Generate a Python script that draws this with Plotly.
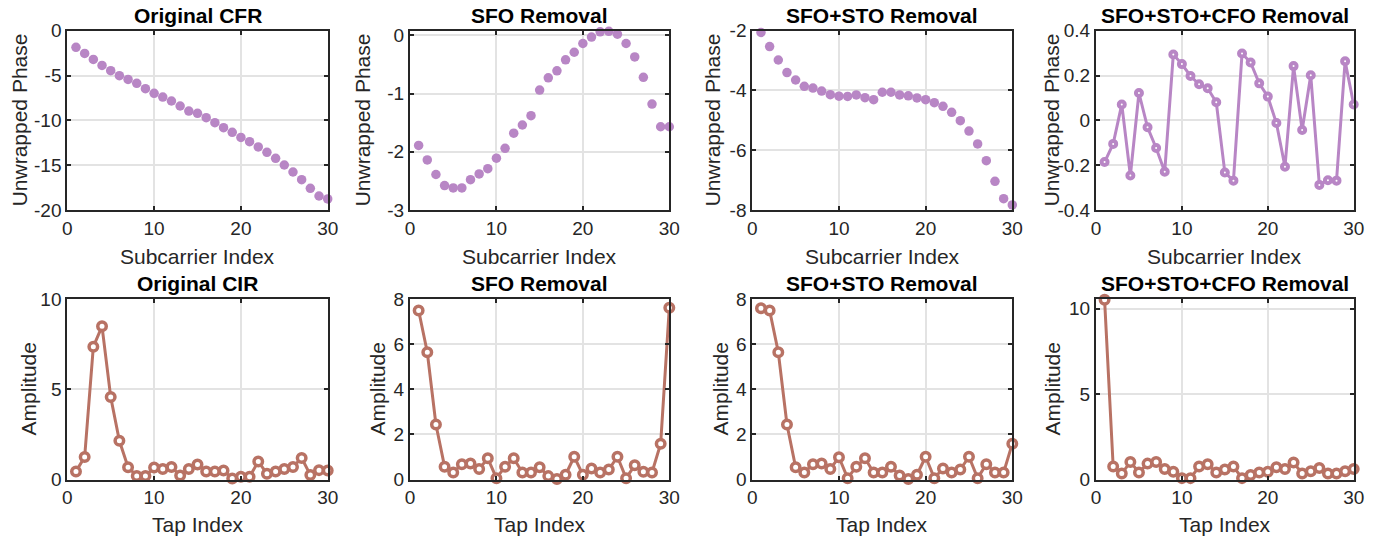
import plotly.graph_objects as go

# ---------------- data ----------------
idx = list(range(1, 31))

cfr_original = [-1.86, -2.53, -3.20, -3.87, -4.46, -5.02, -5.43, -5.87, -6.47, -6.99,
                -7.40, -7.84, -8.40, -8.96, -9.22, -9.70, -10.26, -10.82, -11.34, -11.90,
                -12.38, -12.97, -13.57, -14.24, -14.98, -15.76, -16.62, -17.58, -18.44, -18.77]
cfr_sfo = [-1.89, -2.14, -2.39, -2.58, -2.62, -2.62, -2.48, -2.38, -2.29, -2.11,
           -1.94, -1.68, -1.54, -1.38, -0.94, -0.73, -0.61, -0.42, -0.29, -0.14,
           -0.03, 0.06, 0.07, 0.02, -0.14, -0.37, -0.72, -1.18, -1.57, -1.57]
cfr_sfo_sto = [-2.06, -2.53, -2.98, -3.40, -3.65, -3.86, -3.92, -4.02, -4.14, -4.19,
               -4.20, -4.15, -4.24, -4.31, -4.06, -4.06, -4.15, -4.18, -4.25, -4.31,
               -4.41, -4.53, -4.73, -5.01, -5.36, -5.79, -6.35, -7.04, -7.62, -7.83]
cfr_sfo_sto_cfo = [-0.186, -0.105, 0.071, -0.246, 0.122, -0.031, -0.123, -0.229, 0.294, 0.251,
                   0.198, 0.161, 0.143, 0.081, -0.233, -0.269, 0.298, 0.258, 0.165, 0.106,
                   -0.012, -0.207, 0.242, -0.043, 0.201, -0.288, -0.267, -0.269, 0.264, 0.071]

cir_original = [0.45, 1.25, 7.37, 8.50, 4.58, 2.15, 0.68, 0.20, 0.20, 0.66,
                0.58, 0.70, 0.22, 0.58, 0.83, 0.45, 0.45, 0.50, 0.05, 0.15,
                0.15, 1.00, 0.32, 0.45, 0.58, 0.70, 1.19, 0.25, 0.52, 0.50]
cir_sfo = [7.50, 5.65, 2.44, 0.57, 0.31, 0.68, 0.71, 0.47, 0.94, 0.06,
           0.57, 0.94, 0.31, 0.31, 0.54, 0.15, 0.02, 0.21, 1.01, 0.21,
           0.49, 0.31, 0.44, 1.01, 0.06, 0.63, 0.34, 0.31, 1.59, 7.62]
cir_sfo_sto = [7.60, 7.50, 5.65, 2.44, 0.54, 0.31, 0.68, 0.71, 0.47, 0.99,
               0.06, 0.57, 0.94, 0.31, 0.31, 0.57, 0.18, 0.02, 0.21, 1.01,
               0.06, 0.49, 0.31, 0.44, 1.01, 0.06, 0.68, 0.31, 0.31, 1.59]
cir_sfo_sto_cfo = [10.52, 0.76, 0.35, 1.03, 0.41, 0.93, 1.03, 0.62, 0.45, 0.08,
                   0.08, 0.76, 0.89, 0.41, 0.58, 0.76, 0.08, 0.27, 0.41, 0.45,
                   0.72, 0.62, 0.99, 0.35, 0.48, 0.68, 0.35, 0.35, 0.48, 0.62]

titles_top = ["Original CFR", "SFO Removal", "SFO+STO Removal", "SFO+STO+CFO Removal"]
titles_bot = ["Original CIR", "SFO Removal", "SFO+STO Removal", "SFO+STO+CFO Removal"]

x_ticks = [0, 10, 20, 30]
y_ticks_top = [[0, -5, -10, -15, -20], [0, -1, -2, -3], [-2, -4, -6, -8], [0.4, 0.2, 0, -0.2, -0.4]]
y_ticktext_top = [["0", "-5", "-10", "-15", "-20"], ["0", "-1", "-2", "-3"],
                  ["-2", "-4", "-6", "-8"], ["0.4", "0.2", "0", "-0.2", "-0.4"]]
y_ranges_top = [[-20, 0], [-3, 0.08], [-8, -2], [-0.4, 0.4]]
y_ticks_bot = [[0, 5, 10], [0, 2, 4, 6, 8], [0, 2, 4, 6, 8], [0, 5, 10]]
y_ranges_bot = [[0, 10], [0, 8], [0, 8], [0, 10.55]]

# ---------------- layout geometry (page pixels) ----------------
PAGE_W, PAGE_H = 1387, 537
OFF = 8  # default body margin of the html page
W, H = PAGE_W - OFF, PAGE_H - OFF
cols = [(67.3, 327.7), (410, 669.3), (752.3, 1012.3), (1096, 1353.7)]
rows = [(30.7, 210), (299.3, 479.5)]
ylabel_x_top = [19, 362, 712, 1051]
ylabel_x_bot = [28, 377, 720, 1052]

purple = "#B886C5"
brown = "#B87264"
dark = "#262626"
grid = "#E3E3E3"
FONT = "Liberation Sans, Arial, Helvetica, sans-serif"

fig = go.Figure()

top_series = [cfr_original, cfr_sfo, cfr_sfo_sto, cfr_sfo_sto_cfo]
bot_series = [cir_original, cir_sfo, cir_sfo_sto, cir_sfo_sto_cfo]

annotations = []
layout_axes = {}

def px_x(p):
    return (p - OFF) / W

def px_y(p):
    return 1 - (p - OFF) / H

n = 0
for r in range(2):
    for c in range(4):
        n += 1
        xa = "x" if n == 1 else f"x{n}"
        ya = "y" if n == 1 else f"y{n}"
        xkey = "xaxis" if n == 1 else f"xaxis{n}"
        ykey = "yaxis" if n == 1 else f"yaxis{n}"
        x0, x1 = cols[c]
        ytop, ybot = rows[r]
        axis_common = dict(showline=True, linecolor=dark, linewidth=2, mirror="ticks",
                           ticks="inside", ticklen=4, tickwidth=1.5, tickcolor=dark,
                           showgrid=True, gridcolor=grid, gridwidth=1.6, zeroline=False,
                           automargin=False,
                           tickfont=dict(family=FONT, size=19, color=dark))
        layout_axes[xkey] = dict(domain=[px_x(x0), px_x(x1)], anchor=ya, range=[0, 30],
                                 tickvals=x_ticks, ticktext=[str(v) for v in x_ticks],
                                 **axis_common)
        if r == 0:
            layout_axes[ykey] = dict(domain=[px_y(ybot), px_y(ytop)], anchor=xa,
                                     range=y_ranges_top[c], tickvals=y_ticks_top[c],
                                     ticktext=y_ticktext_top[c], **axis_common)
            ys = top_series[c]
            if c < 3:
                fig.add_trace(go.Scatter(x=idx, y=ys, xaxis=xa, yaxis=ya, mode="markers",
                                         marker=dict(color=purple, size=9.5),
                                         cliponaxis=False, showlegend=False))
            else:
                fig.add_trace(go.Scatter(x=idx, y=ys, xaxis=xa, yaxis=ya, mode="lines+markers",
                                         line=dict(color=purple, width=3),
                                         marker=dict(color="white", size=6, symbol="circle",
                                                     line=dict(color=purple, width=4)),
                                         cliponaxis=False, showlegend=False))
            title = titles_top[c]
            xlabel = "Subcarrier Index"
            ylabel = "Unwrapped Phase"
            title_y = 15
            xlabel_y = 256
            ylx = ylabel_x_top[c]
        else:
            layout_axes[ykey] = dict(domain=[px_y(ybot), px_y(ytop)], anchor=xa,
                                     range=y_ranges_bot[c], tickvals=y_ticks_bot[c],
                                     ticktext=[str(v) for v in y_ticks_bot[c]], **axis_common)
            ys = bot_series[c]
            fig.add_trace(go.Scatter(x=idx, y=ys, xaxis=xa, yaxis=ya, mode="lines+markers",
                                     line=dict(color=brown, width=3),
                                     marker=dict(color="white", size=8.5, symbol="circle",
                                                 line=dict(color=brown, width=3.5)),
                                     cliponaxis=False, showlegend=False))
            title = titles_bot[c]
            xlabel = "Tap Index"
            ylabel = "Amplitude"
            title_y = 283
            xlabel_y = 524
            ylx = ylabel_x_bot[c]
        xc = (x0 + x1) / 2
        annotations.append(dict(text=f"<b>{title}</b>", x=px_x(xc), y=px_y(title_y),
                                xref="paper", yref="paper", xanchor="center", yanchor="middle",
                                showarrow=False, font=dict(family=FONT, size=21, color="black")))
        annotations.append(dict(text=xlabel, x=px_x(xc), y=px_y(xlabel_y),
                                xref="paper", yref="paper", xanchor="center", yanchor="middle",
                                showarrow=False, font=dict(family=FONT, size=21, color=dark)))
        annotations.append(dict(text=ylabel, x=px_x(ylx), y=px_y((ytop + ybot) / 2),
                                xref="paper", yref="paper", xanchor="center", yanchor="middle",
                                textangle=-90, showarrow=False,
                                font=dict(family=FONT, size=21, color=dark)))

fig.update_layout(width=W, height=H, margin=dict(l=0, r=0, t=0, b=0),
                  paper_bgcolor="white", plot_bgcolor="white",
                  annotations=annotations, **layout_axes)

fig.write_html("out.html")
